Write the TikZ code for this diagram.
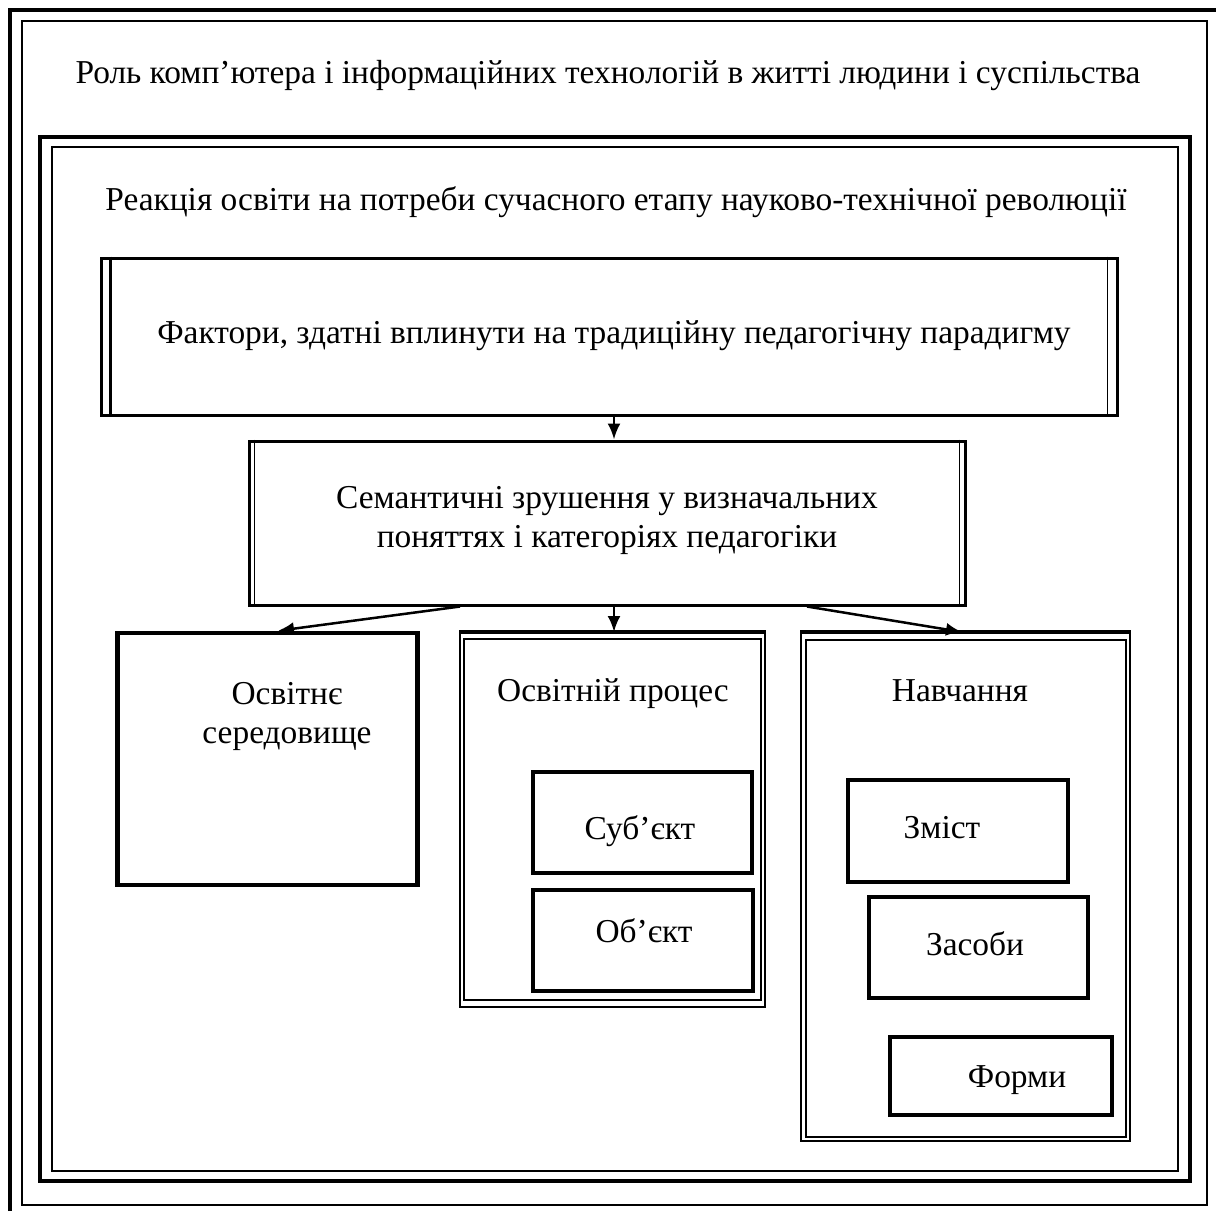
\documentclass[tikz,border=0pt]{standalone}
\usepackage{fontspec}
\setmainfont{Liberation Serif}
\usetikzlibrary{arrows.meta}

\begin{document}
\begin{tikzpicture}[x=1pt, y=-1pt,
  txt/.style={draw=none, inner sep=0pt, anchor=base, align=center, font=\fontsize{33.4}{39}\selectfont},
  thickbox/.style={rectangle, draw, line width=4.5pt, inner sep=0pt},
  procbox/.style={rectangle, draw, line width=3pt, inner sep=0pt},
  frameout/.style={rectangle, draw, line width=2pt, inner sep=0pt},
  framein/.style={rectangle, draw, line width=1.2pt, inner sep=0pt},
  arr/.style={-{Latex[length=16pt,width=13pt]}, line width=2.5pt}]
\useasboundingbox (0,0) rectangle (1216,1211);
%%%%%%%%%%%%%%%%%%%%%%%%%%%%%%% outer frames
\draw[line width=4pt] (10,1211) -- (10,10) -- (1216,10);
\draw[line width=1.5pt] (22,21) rectangle (1207,1205);
\node[txt](tRole) at (608,83){Роль комп’ютера і інформаційних технологій в житті людини і суспільства};

\draw[line width=3.5pt] (40,137) rectangle (1190,1181);
\draw[line width=1.8pt] (52,147) rectangle (1178,1171);
\node[txt](tReact) at (616,210){Реакція освіти на потреби сучасного етапу науково-технічної революції};

%%%%%%%%%%%%%%%%%%%%%%%%%%%%%%% factors and shifts
\node[procbox, minimum width=1016, minimum height=157](factors) at (609,336.5){};
\draw[line width=3.5pt] ([xshift=11pt]factors.north west) -- ([xshift=11pt]factors.south west);
\draw[line width=1.5pt] ([xshift=-11pt]factors.north east) -- ([xshift=-11pt]factors.south east);
\node[txt](tFactors) at (614,343){Фактори, здатні вплинути на традиційну педагогічну парадигму};

\node[procbox, minimum width=716, minimum height=164](shifts) at (607,523){};
\draw[line width=1.5pt] ([xshift=7pt]shifts.north west) -- ([xshift=7pt]shifts.south west);
\draw[line width=1.5pt] ([xshift=-7pt]shifts.north east) -- ([xshift=-7pt]shifts.south east);
\node[txt](tShifts) at (607,547){Семантичні зрушення у визначальних\\поняттях і категоріях педагогіки};
\draw[arr] (factors.south -| 614,0) -- (shifts.north -| 614,0);

%%%%%%%%%%%%%%%%%%%%%%%%%%%%%%% environment
\node[thickbox, minimum width=300, minimum height=252](env) at (267.5,759){};
\node[txt](tEnv) at (287,743){Освітнє\\середовище};

%%%%%%%%%%%%%%%%%%%%%%%%%%%%%%% process
\node[frameout, minimum width=305, minimum height=374](proc) at (612.5,820){};
\draw[line width=4pt] (proc.north west) -- (proc.north east);
\node[framein, minimum width=297, minimum height=361](procIn) at (612.5,819.5){};
\node[txt](tProc) at (613,701){Освітній процес};
\node[thickbox, minimum width=219, minimum height=101](subj) at (642.5,822.5){};
\node[txt](tSubj) at (640,839){Суб’єкт};
\node[thickbox, minimum width=220, minimum height=101](obj) at (643,940.5){};
\node[txt](tObj) at (644,942){Об’єкт};

%%%%%%%%%%%%%%%%%%%%%%%%%%%%%%% learning
\node[frameout, minimum width=329, minimum height=508](learn) at (965.5,887){};
\draw[line width=4pt] (learn.north west) -- (learn.north east);
\node[framein, minimum width=320, minimum height=497](learnIn) at (966,888.5){};
\node[txt](tLearn) at (960,701){Навчання};
\node[thickbox, minimum width=220, minimum height=102](content) at (958,831){};
\node[txt](tContent) at (942,838){Зміст};
\node[thickbox, minimum width=219, minimum height=101](means) at (978.5,947.5){};
\node[txt](tMeans) at (975,955){Засоби};
\node[thickbox, minimum width=222, minimum height=78](forms) at (1001,1076){};
\node[txt](tForms) at (1017,1087){Форми};

%%%%%%%%%%%%%%%%%%%%%%%%%%%%%%% arrows
\draw[arr] (shifts.south -| 460,0) -- (env.north -| 278,0);
\draw[arr] (shifts.south -| 614,0) -- (proc.north -| 614,0);
\draw[arr] (shifts.south -| 807,0) -- (learn.north -| 962,0);
\end{tikzpicture}
\end{document}
